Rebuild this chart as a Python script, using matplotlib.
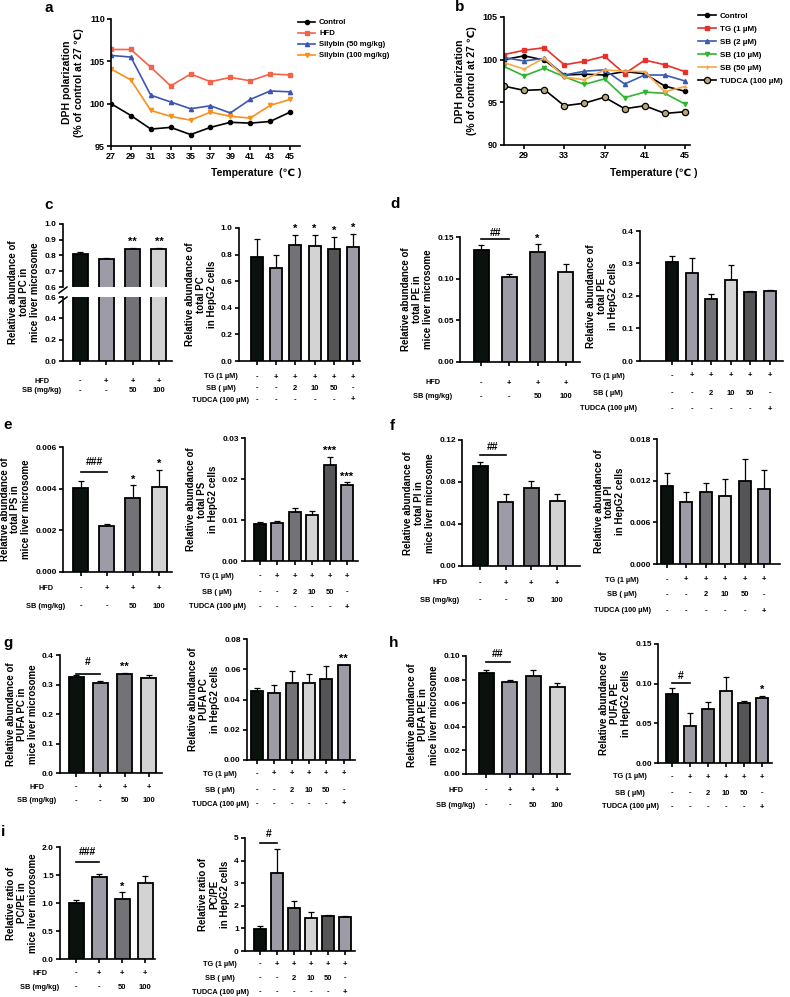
import numpy as np
import matplotlib
matplotlib.use("Agg")
import matplotlib.pyplot as plt
from matplotlib.lines import Line2D
from matplotlib.ticker import FormatStrFormatter
from matplotlib.transforms import blended_transform_factory

plt.rcParams['font.family'] = ['Liberation Sans', 'DejaVu Sans']
plt.rcParams['font.weight'] = 'bold'
plt.rcParams['axes.labelweight'] = 'bold'
plt.rcParams['axes.linewidth'] = 1.2
plt.rcParams['xtick.major.width'] = 1.2
plt.rcParams['ytick.major.width'] = 1.2
plt.rcParams['xtick.major.size'] = 3
plt.rcParams['ytick.major.size'] = 3
plt.rcParams['xtick.labelsize'] = 6
plt.rcParams['ytick.labelsize'] = 6
plt.rcParams['xtick.major.pad'] = 1.5
plt.rcParams['ytick.major.pad'] = 1.5

W, H = 790, 997

# ---------------- data: DPH polarization (a, b)
temps = [27, 29, 31, 33, 35, 37, 39, 41, 43, 45]
a_control = [100.0, 98.6, 97.0, 97.2, 96.35, 97.2, 97.8, 97.7, 97.9, 99.0]
a_hfd = [106.4, 106.4, 104.3, 102.1, 103.5, 102.6, 103.1, 102.7, 103.5, 103.4]
a_sb50 = [105.7, 105.5, 101.0, 100.2, 99.4, 99.75, 98.9, 100.5, 101.5, 101.4]
a_sb100 = [104.1, 102.8, 99.2, 98.5, 98.05, 99.0, 98.5, 98.3, 99.8, 100.5]

b_control = [100.0, 100.45, 99.95, 98.2, 98.3, 98.2, 98.6, 98.35, 96.9, 96.3]
b_tg = [100.6, 101.1, 101.4, 99.4, 99.8, 100.4, 98.35, 99.95, 99.4, 98.6]
b_sb2 = [100.25, 99.85, 100.15, 98.2, 98.65, 98.8, 97.15, 98.2, 98.2, 97.5]
b_sb10 = [99.2, 98.1, 99.0, 98.0, 97.1, 97.75, 95.55, 96.2, 96.05, 94.8]
b_sb50 = [99.65, 98.9, 100.2, 97.95, 97.65, 98.8, 98.65, 98.6, 96.25, 96.85]
b_tudca = [96.9, 96.4, 96.5, 94.6, 94.9, 95.6, 94.25, 94.6, 93.7, 93.9]

# ---------------- data: bar panels (mean, SEM)
c_mice = [0.81, 0.776, 0.841, 0.839]
c_mice_err = [0.011, 0.011, 0.007, 0.009]
c_cell = [0.78, 0.70, 0.875, 0.865, 0.84, 0.855]
c_cell_err = [0.14, 0.10, 0.075, 0.085, 0.095, 0.10]
d_mice = [0.134, 0.102, 0.132, 0.108]
d_mice_err = [0.006, 0.003, 0.009, 0.009]
d_cell = [0.305, 0.272, 0.19, 0.248, 0.212, 0.215]
d_cell_err = [0.018, 0.046, 0.017, 0.047, 0.004, 0.003]
e_mice = [0.00405, 0.00222, 0.00357, 0.0041]
e_mice_err = [0.0003, 0.00007, 0.0006, 0.0008]
e_cell = [0.0090, 0.0092, 0.0119, 0.0111, 0.0233, 0.0185]
e_cell_err = [0.0005, 0.0006, 0.0010, 0.0010, 0.0021, 0.0007]
f_mice = [0.0948, 0.0605, 0.0743, 0.0617]
f_mice_err = [0.0041, 0.0085, 0.0063, 0.0073]
f_cell = [0.0113, 0.0089, 0.0103, 0.0098, 0.0120, 0.0108]
f_cell_err = [0.0018, 0.0015, 0.0014, 0.0024, 0.0031, 0.0028]
g_mice = [0.325, 0.305, 0.336, 0.321]
g_mice_err = [0.006, 0.008, 0.004, 0.010]
g_cell = [0.0453, 0.0443, 0.0512, 0.0512, 0.0535, 0.0625]
g_cell_err = [0.0020, 0.0053, 0.0077, 0.0057, 0.0085, 0.0006]
h_mice = [0.086, 0.078, 0.0834, 0.0737]
h_mice_err = [0.002, 0.0014, 0.0046, 0.0034]
h_cell = [0.0865, 0.047, 0.068, 0.091, 0.076, 0.082]
h_cell_err = [0.008, 0.016, 0.009, 0.018, 0.0025, 0.0028]
i_mice = [1.0, 1.46, 1.08, 1.36]
i_mice_err = [0.05, 0.06, 0.11, 0.12]
i_cell = [0.99, 3.45, 1.92, 1.45, 1.55, 1.52]
i_cell_err = [0.10, 1.08, 0.30, 0.28, 0.04, 0.03]

mice_names = ['HFD', 'SB (mg/kg)']
mice_marks = [['-', '+', '+', '+'], ['-', '-', '50', '100']]
cell_names = ['TG (1 µM)', 'SB ( µM)', 'TUDCA (100 µM)']
cell_marks = [['-', '+', '+', '+', '+', '+'],
              ['-', '-', '2', '10', '50', '-'],
              ['-', '-', '-', '-', '-', '+']]

mice_colors = ['#0b110d', '#9d9ca6', '#737276', '#d3d3d3']
cell_colors = ['#0b110d', '#9d9ca6', '#737276', '#d3d3d3', '#555457', '#9d9ca6']

fig = plt.figure(figsize=(7.9, 9.97), dpi=100)


def px_rect(x0, x1, yt, yb):
    return [x0 / W, 1 - yb / H, (x1 - x0) / W, (yb - yt) / H]


def ftext(x, y, s, **kw):
    return fig.text(x / W, 1 - y / H, s, **kw)


def clean(ax):
    for s in ['top', 'right']:
        ax.spines[s].set_visible(False)


def bar_axes(box, first, step, means, errs, colors, ylim, yticks, fmt, label=None):
    x0, x1, yt, yb = box
    n = len(means)
    ax = fig.add_axes(px_rect(x0, x1, yt, yb))
    pos = np.arange(n)
    width = (15 if n == 4 else 12) / step
    ax.bar(pos, means, width=width, color=colors, edgecolor='black',
           linewidth=1.3, zorder=3)
    ax.errorbar(pos, means, yerr=[np.zeros(n), errs], fmt='none', ecolor='black',
                elinewidth=0.9, capsize=2.2, capthick=0.9, zorder=2)
    ax.set_xlim(-(first - x0) / step, n - 1 + (x1 - first - (n - 1) * step) / step)
    ax.set_ylim(*ylim)
    ax.set_yticks(yticks)
    ax.yaxis.set_major_formatter(FormatStrFormatter(fmt))
    ax.set_xticks(pos)
    ax.set_xticklabels([])
    clean(ax)
    if label:
        ax.set_ylabel(label, fontsize=7, labelpad=3, linespacing=1.1)
    return ax


def row_labels(ax, box, names, marks, dx, offs):
    tr = blended_transform_factory(ax.transData, fig.transFigure)
    for name, row, off in zip(names, marks, offs):
        yy = box[3] + off
        ftext(box[0] + dx, yy, name, ha='center', va='center', fontsize=5.3)
        for i, m in enumerate(row):
            ax.text(i, 1 - yy / H, m, transform=tr, ha='center', va='center',
                    fontsize=5.5, clip_on=False)


def stars(ax, means, errs, marks):
    for i, s in marks.items():
        ax.annotate(s, (i, means[i] + errs[i]), xytext=(0, 0.5),
                    textcoords='offset points', ha='center', va='bottom',
                    fontsize=8, annotation_clip=False)


def hashes(ax, s, ly, ty):
    ax.plot([0, 1], [ly, ly], color='black', lw=1.2, clip_on=False)
    ax.text(0.5, ty, s, ha='center', va='center', fontsize=7.5, clip_on=False)


# ---------------- panel a
ax = fig.add_axes(px_rect(111, 300, 19, 146))
ax.plot(temps, a_control, color='black', marker='o', ms=3, lw=1.2, label='Control')
ax.plot(temps, a_hfd, color='#f2634a', marker='s', ms=3, lw=1.2, label='HFD')
ax.plot(temps, a_sb50, color='#3d55b0', marker='^', ms=3, lw=1.2, label='Silybin (50 mg/kg)')
ax.plot(temps, a_sb100, color='#f7901e', marker='v', ms=3, lw=1.2, label='Silybin (100 mg/kg)')
ax.set_xlim(27, 46)
ax.set_ylim(95, 110)
ax.set_xticks(temps)
ax.set_yticks([95, 100, 105, 110])
ax.tick_params(labelsize=6.5)
clean(ax)
ax.set_ylabel('DPH polarization\n(% of control at 27 ℃)', fontsize=7.5,
              labelpad=4, linespacing=1.2)
ax.legend(loc='upper left', bbox_to_anchor=(298 / W, 1 - 19 / H),
          bbox_transform=fig.transFigure, frameon=False, fontsize=5.6,
          handlelength=2.2, handletextpad=0.5, labelspacing=0.45,
          borderaxespad=0, borderpad=0)
ftext(256, 173, 'Temperature  (℃ )', ha='center', va='center', fontsize=7.5)

# ---------------- panel b
ax = fig.add_axes(px_rect(504, 690, 17, 145))
ax.plot(temps, b_control, color='black', marker='o', ms=3, lw=1.2, label='Control')
ax.plot(temps, b_tg, color='#e8302a', marker='s', ms=3, lw=1.2, label='TG (1 µM)')
ax.plot(temps, b_sb2, color='#3a5bb0', marker='^', ms=3, lw=1.2, label='SB (2 µM)')
ax.plot(temps, b_sb10, color='#2fb52f', marker='v', ms=3, lw=1.2, label='SB (10 µM)')
ax.plot(temps, b_sb50, color='#f8a848', marker='+', ms=3.5, lw=1.2, label='SB (50 µM)')
ax.plot(temps, b_tudca, color='black', marker='o', ms=4.5, mfc='#b9a577',
        mec='black', mew=0.9, lw=1.2, label='TUDCA (100 µM)')
ax.set_xlim(27, 45.5)
ax.set_ylim(90, 105)
ax.set_xticks([29, 33, 37, 41, 45])
ax.set_yticks([90, 95, 100, 105])
ax.tick_params(labelsize=6.5)
clean(ax)
ax.set_ylabel('DPH polarization\n(% of control at 27 ℃)', fontsize=7.5,
              labelpad=4, linespacing=1.2)
ax.legend(loc='upper left', bbox_to_anchor=(698 / W, 1 - 12 / H),
          bbox_transform=fig.transFigure, frameon=False, fontsize=5.8,
          handlelength=2.2, handletextpad=0.5, labelspacing=0.68,
          borderaxespad=0, borderpad=0)
ftext(654, 173, 'Temperature (℃ )', ha='center', va='center', fontsize=7.5)

# ---------------- panel c (broken axis on the left)
box_top = (63, 172, 224, 287)
box_bot = (63, 172, 297, 361)
axt = bar_axes(box_top, 80, 26.3, c_mice, c_mice_err, mice_colors,
               (0.6, 1.0), [0.6, 0.7, 0.8, 0.9, 1.0], '%.1f')
axt.spines['bottom'].set_visible(False)
axt.tick_params(axis='x', length=0)
axb = bar_axes(box_bot, 80, 26.3, c_mice, c_mice_err, mice_colors,
               (0, 0.6), [0, 0.2, 0.4, 0.6], '%.1f')
for yy in (290, 300):
    fig.add_artist(Line2D([59 / W, 67 / W], [1 - (yy + 3) / H, 1 - (yy - 3) / H],
                          color='black', lw=1.1))
stars(axt, c_mice, c_mice_err, {2: '**', 3: '**'})
row_labels(axb, box_bot, mice_names, mice_marks, -21, [20, 30])
ftext(24, 292, 'Relative abundance of\ntotal PC in\nmice liver microsome',
      rotation=90, ha='center', va='center', fontsize=7, linespacing=1.1)

box = (239, 360, 228, 361)
ax = bar_axes(box, 257, 19.2, c_cell, c_cell_err, cell_colors,
              (0, 1.0), [0, 0.2, 0.4, 0.6, 0.8, 1.0], '%.1f',
              'Relative abundance of\ntotal PC\nin HepG2 cells')
stars(ax, c_cell, c_cell_err, {2: '*', 3: '*', 4: '*', 5: '*'})
row_labels(ax, box, cell_names, cell_marks, -18, [16, 27, 39])

# ---------------- panel d
box = (460, 580, 237, 362)
ax = bar_axes(box, 481, 28.3, d_mice, d_mice_err, mice_colors,
              (0, 0.15), [0, 0.05, 0.10, 0.15], '%.2f',
              'Relative abundance of\ntotal PE in\nmice liver microsome')
stars(ax, d_mice, d_mice_err, {2: '*'})
hashes(ax, '##', 0.147, 0.155)
row_labels(ax, box, mice_names, mice_marks, -27, [21, 35])

box = (640, 783, 231, 361)
ax = bar_axes(box, 672, 19.6, d_cell, d_cell_err, cell_colors,
              (0, 0.4), [0, 0.1, 0.2, 0.3, 0.4], '%.1f',
              'Relative abundance of\ntotal PE\nin HepG2 cells')
row_labels(ax, box, cell_names, cell_marks, -32, [15, 32, 48])

# ---------------- panel e
box = (63, 172, 447, 572)
ax = bar_axes(box, 81, 26, e_mice, e_mice_err, mice_colors,
              (0, 0.006), [0, 0.002, 0.004, 0.006], '%.3f',
              'Relative abundance of\ntotal PS in\nmice liver microsome')
stars(ax, e_mice, e_mice_err, {2: '*', 3: '*'})
hashes(ax, '###', 0.0048, 0.0053)
row_labels(ax, box, mice_names, mice_marks, -17, [16, 34])

box = (245, 358, 438, 561)
ax = bar_axes(box, 260, 17.4, e_cell, e_cell_err, cell_colors,
              (0, 0.03), [0, 0.01, 0.02, 0.03], '%.2f',
              'Relative abundance of\ntotal PS\nin HepG2 cells')
stars(ax, e_cell, e_cell_err, {4: '***', 5: '***'})
row_labels(ax, box, cell_names, cell_marks, -28, [15, 31, 46])

# ---------------- panel f
box = (462, 580, 440, 566)
ax = bar_axes(box, 480, 25.7, f_mice, f_mice_err, mice_colors,
              (0, 0.12), [0, 0.04, 0.08, 0.12], '%.2f',
              'Relative abundance of\ntotal PI in\nmice liver microsome')
hashes(ax, '##', 0.106, 0.113)
row_labels(ax, box, mice_names, mice_marks, -22, [17, 34])

box = (657, 780, 439, 564)
ax = bar_axes(box, 667, 19.4, f_cell, f_cell_err, cell_colors,
              (0, 0.018), [0, 0.006, 0.012, 0.018], '%.3f',
              'Relative abundance of\ntotal PI\nin HepG2 cells')
row_labels(ax, box, cell_names, cell_marks, -35, [16, 31, 47])

# ---------------- panel g
box = (60, 162, 655, 773)
ax = bar_axes(box, 76, 24.3, g_mice, g_mice_err, mice_colors,
              (0, 0.4), [0, 0.1, 0.2, 0.3, 0.4], '%.1f',
              'Relative abundance of\nPUFA PC in\nmice liver microsome')
stars(ax, g_mice, g_mice_err, {2: '**'})
hashes(ax, '#', 0.335, 0.375)
row_labels(ax, box, mice_names, mice_marks, -23, [14, 28])

box = (247, 355, 639, 760)
ax = bar_axes(box, 257, 17.3, g_cell, g_cell_err, cell_colors,
              (0, 0.08), [0, 0.02, 0.04, 0.06, 0.08], '%.2f',
              'Relative abundance of\nPUFA PC\nin HepG2 cells')
stars(ax, g_cell, g_cell_err, {5: '**'})
row_labels(ax, box, cell_names, cell_marks, -27, [14, 30, 44])

# ---------------- panel h
box = (466, 570, 656, 774)
ax = bar_axes(box, 486, 23.7, h_mice, h_mice_err, mice_colors,
              (0, 0.10), [0, 0.02, 0.04, 0.06, 0.08, 0.10], '%.2f',
              'Relative abundance of\nPUFA PE in\nmice liver microsome')
hashes(ax, '##', 0.0951, 0.102)
row_labels(ax, box, mice_names, mice_marks, -10, [16, 31])

box = (658, 772, 644, 763)
ax = bar_axes(box, 672, 18, h_cell, h_cell_err, cell_colors,
              (0, 0.15), [0, 0.05, 0.10, 0.15], '%.2f',
              'Relative abundance of\nPUFA PE\nin HepG2 cells')
stars(ax, h_cell, h_cell_err, {5: '*'})
hashes(ax, '#', 0.1008, 0.110)
row_labels(ax, box, cell_names, cell_marks, -28, [14, 30, 44])

# ---------------- panel i
box = (60, 155, 847, 959)
ax = bar_axes(box, 76, 23, i_mice, i_mice_err, mice_colors,
              (0, 2.0), [0, 0.5, 1.0, 1.5, 2.0], '%.1f',
              'Relative ratio of\nPC/PE in\nmice liver microsome')
stars(ax, i_mice, i_mice_err, {2: '*'})
hashes(ax, '###', 1.735, 1.91)
row_labels(ax, box, mice_names, mice_marks, -20, [14, 28])

box = (245, 355, 838, 951)
ax = bar_axes(box, 260, 17, i_cell, i_cell_err, cell_colors,
              (0, 5), [0, 1, 2, 3, 4, 5], '%d',
              'Relative ratio of\nPC/PE\nin HepG2 cells')
hashes(ax, '#', 4.78, 5.16)
row_labels(ax, box, cell_names, cell_marks, -25, [13, 27, 41])

# ---------------- panel letters
for letter, x, y in [('a', 49, 8), ('b', 460, 7), ('c', 49, 205), ('d', 395, 204),
                     ('e', 8, 425), ('f', 392, 426), ('g', 8, 643), ('h', 394, 643),
                     ('i', 3, 832)]:
    ftext(x, y, letter, ha='center', va='center', fontsize=11)

fig.savefig('out.png', dpi=100)
